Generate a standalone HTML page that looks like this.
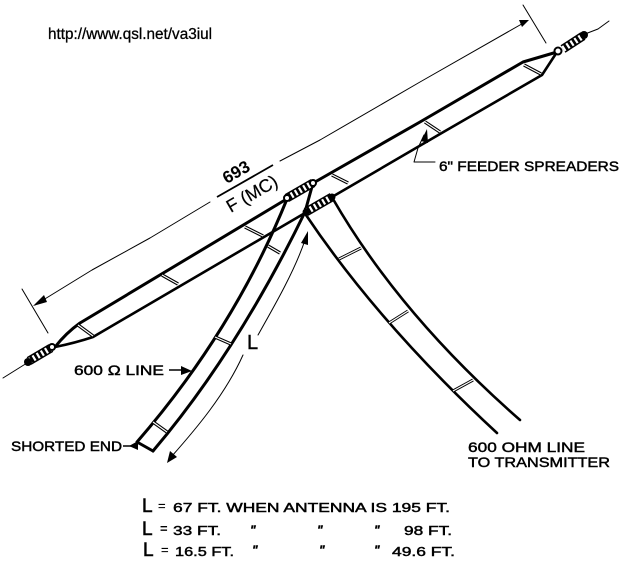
<!DOCTYPE html>
<html>
<head>
<meta charset="utf-8">
<style>
html,body{margin:0;padding:0;background:#fff;width:626px;height:565px;overflow:hidden}
svg{display:block}
text{font-family:"Liberation Sans",sans-serif;fill:#000;stroke:#000;stroke-width:.45}
.w{fill:none;stroke:#000;stroke-width:3;stroke-linejoin:round;stroke-linecap:round}
.t{fill:none;stroke:#000;stroke-width:1;stroke-linecap:round;stroke-linejoin:round}
.s{fill:none;stroke:#000;stroke-width:3.4}
.s2{fill:none;stroke:#fff;stroke-width:1.2}
</style>
</head>
<body>
<svg width="626" height="565" viewBox="0 0 626 565" xmlns="http://www.w3.org/2000/svg">

<!-- url -->
<text x="48" y="39" font-size="15.5" textLength="164" lengthAdjust="spacingAndGlyphs" style="stroke-width:.3">http://www.qsl.net/va3iul</text>

<!-- end wires -->
<polyline class="t" points="3,378 27,363"/>
<polyline class="t" points="585,34 598,29 609,21"/>

<!-- antenna feeders -->
<path class="w" d="M55,347 Q66,333 80,323 L285,200"/>
<path class="w" style="stroke-width:2.6" d="M55,347 Q75,343 93,337 L305,213"/>
<polyline class="w" points="315,182 420,122 523,62 557,52"/>
<polyline class="w" style="stroke-width:2.6" points="332,197 440,134 542,75 557,52"/>

<!-- antenna spreaders -->
<g class="s">
<line x1="78" y1="325" x2="93" y2="336"/><line x1="162" y1="275" x2="178" y2="284"/><line x1="245" y1="227" x2="263" y2="236"/><line x1="332" y1="175" x2="348" y2="183"/><line x1="425" y1="122" x2="440" y2="132"/><line x1="524" y1="65" x2="541" y2="74"/>
</g>
<g class="s2">
<line x1="78" y1="325" x2="93" y2="336"/><line x1="162" y1="275" x2="178" y2="284"/><line x1="245" y1="227" x2="263" y2="236"/><line x1="332" y1="175" x2="348" y2="183"/><line x1="425" y1="122" x2="440" y2="132"/><line x1="524" y1="65" x2="541" y2="74"/>
</g>

<!-- quarter-wave stub -->
<path class="w" d="M287,199 Q234,330 137,442 L153,451"/>
<path class="w" d="M313,183 L305,212 Q237,352 153,451"/>
<g class="s">
<line x1="268" y1="246" x2="280" y2="253"/><line x1="215" y1="337" x2="231" y2="344"/><line x1="153" y1="422" x2="167" y2="432"/>
</g>
<g class="s2">
<line x1="268" y1="246" x2="280" y2="253"/><line x1="215" y1="337" x2="231" y2="344"/><line x1="153" y1="422" x2="167" y2="432"/>
</g>

<!-- transmitter line -->
<path class="w" style="stroke-width:2.6" d="M306,215 Q380,325 497,433"/>
<path class="w" style="stroke-width:2.6" d="M333,199 Q400,315 520,420"/>
<g class="s" style="stroke-width:3">
<line x1="339" y1="259" x2="361" y2="248"/><line x1="389" y1="323" x2="408" y2="311"/><line x1="453" y1="391" x2="473" y2="380"/>
</g>
<g class="s2">
<line x1="339" y1="259" x2="361" y2="248"/><line x1="389" y1="323" x2="408" y2="311"/><line x1="453" y1="391" x2="473" y2="380"/>
</g>

<!-- insulators -->
<g fill="none" stroke-linecap="butt">
<line x1="29" y1="361" x2="51" y2="348" stroke="#000" stroke-width="9"/>
<line x1="29" y1="361" x2="51" y2="348" stroke="#fff" stroke-width="6" stroke-dasharray="2.2 2.6"/>
<line x1="287" y1="198" x2="313" y2="183" stroke="#000" stroke-width="9"/>
<line x1="287" y1="198" x2="313" y2="183" stroke="#fff" stroke-width="6" stroke-dasharray="2.2 2.6"/>
<line x1="306" y1="212" x2="332" y2="197" stroke="#000" stroke-width="9"/>
<line x1="306" y1="212" x2="332" y2="197" stroke="#fff" stroke-width="6" stroke-dasharray="2.2 2.6"/>
<line x1="563" y1="49" x2="583" y2="36" stroke="#000" stroke-width="9"/>
<line x1="563" y1="49" x2="583" y2="36" stroke="#fff" stroke-width="6" stroke-dasharray="2.2 2.6"/>
</g>
<circle cx="28" cy="362" r="4" fill="#000"/>
<circle cx="52" cy="347" r="3" fill="#fff" stroke="#000" stroke-width="2"/>
<circle cx="287" cy="198" r="3" fill="#fff" stroke="#000" stroke-width="2"/>
<circle cx="313" cy="183" r="3" fill="#fff" stroke="#000" stroke-width="2"/>
<circle cx="306" cy="212" r="3.5" fill="#000"/>
<circle cx="332" cy="197" r="3.5" fill="#000"/>
<circle cx="558" cy="51" r="3.5" fill="#fff" stroke="#000" stroke-width="2"/>
<circle cx="584" cy="35" r="4" fill="#000"/>

<!-- dimension line -->
<polyline class="t" points="35,305 92,270 150,238 210,202"/>
<polyline class="t" points="22,289 48,333"/>
<polyline class="t" points="280,161 320,140 420,82 527,21"/>
<polyline class="t" points="523,5 546,43"/>
<polygon points="33,306 44,295 47,302" fill="#000"/>
<polygon points="529,20 519,20 522,27" fill="#000"/>

<!-- fraction -->
<line x1="217" y1="197" x2="273" y2="165" stroke="#000" stroke-width="1.8"/>
<text transform="translate(239,177) rotate(-30)" font-size="17" text-anchor="middle" font-weight="bold" style="stroke-width:0">693</text>
<text transform="translate(255,199) rotate(-30)" font-size="18" text-anchor="middle" style="stroke-width:.2">F (MC)</text>

<!-- L arrows -->
<path class="t" d="M258,335 C275,305 295,270 305,240"/>
<polygon points="308,231 301,243 308,245" fill="#000"/>
<path class="t" d="M243,355 C225,395 195,430 172,456"/>
<polygon points="167,463 170,451 177,457" fill="#000"/>
<text x="247" y="349" font-size="20" style="stroke-width:.4">L</text>

<!-- labels -->
<text x="74" y="375" font-size="14" textLength="90" lengthAdjust="spacingAndGlyphs">600 &#937; LINE</text>
<line x1="169" y1="370" x2="184" y2="370" stroke="#000" stroke-width="1.5"/>
<polygon points="192,371 181,366 181,375" fill="#000"/>

<text x="11" y="451" font-size="14" textLength="111" lengthAdjust="spacingAndGlyphs">SHORTED END</text>
<line x1="123" y1="446" x2="132" y2="446" stroke="#000" stroke-width="1.5"/>
<polygon points="129,446 138,441 138,450" fill="#000"/>

<text x="439" y="171" font-size="14" textLength="180" lengthAdjust="spacingAndGlyphs">6" FEEDER SPREADERS</text>
<polyline class="t" points="435,162 414,162 418,148 424,135"/>
<polygon points="427,129 421,141 428,143" fill="#000"/>

<text x="468" y="452" font-size="14" textLength="117" lengthAdjust="spacingAndGlyphs">600 OHM LINE</text>
<text x="468" y="467" font-size="14" textLength="142" lengthAdjust="spacingAndGlyphs">TO TRANSMITTER</text>

<!-- table -->
<text x="142" y="512" font-size="19" style="stroke-width:.6">L</text>
<text x="158" y="510" font-size="13" style="stroke-width:.2">=</text>
<text x="173" y="512" font-size="13" textLength="277" lengthAdjust="spacingAndGlyphs">67 FT. WHEN ANTENNA IS 195 FT.</text>

<text x="142" y="535" font-size="19" style="stroke-width:.6">L</text>
<text x="160" y="533" font-size="13" font-weight="bold" style="stroke-width:0">=</text>
<text x="173" y="535" font-size="13" textLength="48" lengthAdjust="spacingAndGlyphs">33 FT.</text>
<text x="250" y="534" font-size="12" font-weight="bold" font-style="italic">"</text>
<text x="317" y="534" font-size="12" font-weight="bold" font-style="italic">"</text>
<text x="374" y="534" font-size="12" font-weight="bold" font-style="italic">"</text>
<text x="404" y="535" font-size="13" textLength="48" lengthAdjust="spacingAndGlyphs">98 FT.</text>

<text x="143" y="556" font-size="19" style="stroke-width:.6">L</text>
<text x="161" y="554" font-size="13" style="stroke-width:.2">=</text>
<text x="175" y="556" font-size="13" textLength="59" lengthAdjust="spacingAndGlyphs">16.5 FT.</text>
<text x="252" y="554" font-size="12" font-weight="bold" font-style="italic">"</text>
<text x="319" y="554" font-size="12" font-weight="bold" font-style="italic">"</text>
<text x="374" y="554" font-size="12" font-weight="bold" font-style="italic">"</text>
<text x="392" y="556" font-size="13" textLength="63" lengthAdjust="spacingAndGlyphs">49.6 FT.</text>
</svg>
</body>
</html>
